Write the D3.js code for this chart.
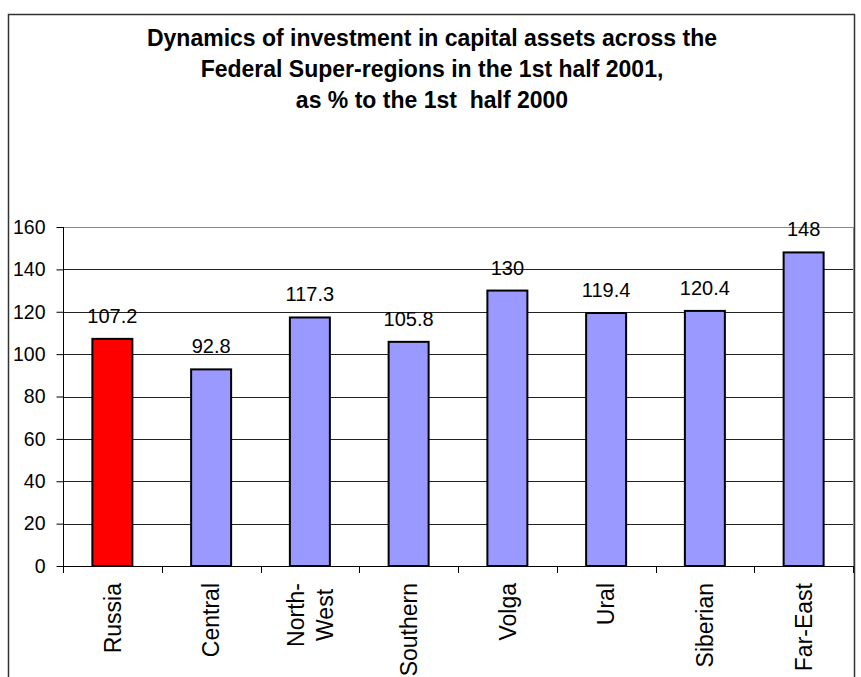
<!DOCTYPE html>
<html>
<head>
<meta charset="utf-8">
<script src="https://cdn.jsdelivr.net/npm/d3@7/dist/d3.min.js"></script>
<style>
  html, body { margin: 0; padding: 0; background: #fff; }
  svg { display: block; font-family: "Liberation Sans", Arial, sans-serif; }
</style>
</head>
<body>
<svg id="chart" width="861" height="677"></svg>
<script>
// Regions and their investment index (1st half 2001 as % of 1st half 2000)
const categories = ["Russia", "Central", "North-West", "Southern", "Volga", "Ural", "Siberian", "Far-East"];
const categoryLabels = ["Russia", "Central", "North-\nWest", "Southern", "Volga", "Ural", "Siberian", "Far-East"];
const values = [107.2, 92.8, 117.3, 105.8, 130, 119.4, 120.4, 148];
const valueLabels = ["107.2", "92.8", "117.3", "105.8", "130", "119.4", "120.4", "148"];
const yTicks = [0, 20, 40, 60, 80, 100, 120, 140, 160];
const titleLines = [
  "Dynamics of investment in capital assets across the",
  "Federal Super-regions in the 1st half 2001,",
  "as % to the 1st  half 2000"
];

const svg = d3.select("#chart");

const plot = { left: 63, right: 853, top: 227, bottom: 566 };
const barFrac = 0.405;

// Outer frame of the chart
svg.append("rect")
  .attr("x", 8.5).attr("y", 14.5)
  .attr("width", 846).attr("height", 700)
  .attr("fill", "#fff")
  .attr("stroke", "#333").attr("stroke-width", 1.5);

// Title
const title = svg.append("text")
  .attr("text-anchor", "middle")
  .attr("font-weight", "bold")
  .attr("font-size", 23)
  .attr("fill", "#000");
titleLines.forEach((line, i) => {
  title.append("tspan")
    .attr("x", 432)
    .attr("y", 46 + i * 31)
    .style("white-space", "pre")
    .text(line);
});

const x = d3.scaleBand()
  .domain(categories)
  .range([plot.left, plot.right])
  .padding(0);

const y = d3.scaleLinear()
  .domain([0, 160])
  .range([plot.bottom, plot.top]);

// Horizontal gridlines
svg.append("g")
  .selectAll("line")
  .data(yTicks.filter(t => t > 0 && t < 160))
  .join("line")
  .attr("x1", plot.left).attr("x2", plot.right)
  .attr("y1", d => Math.round(y(d)) + 0.5)
  .attr("y2", d => Math.round(y(d)) + 0.5)
  .attr("stroke", "#222").attr("stroke-width", 1);

// Plot area border
svg.append("rect")
  .attr("x", plot.left + 0.5).attr("y", Math.round(plot.top) + 0.5)
  .attr("width", plot.right - plot.left)
  .attr("height", plot.bottom - plot.top)
  .attr("fill", "none")
  .attr("stroke", "#888").attr("stroke-width", 1);

// Bars
const bw = x.bandwidth() * barFrac;
svg.append("g")
  .selectAll("rect")
  .data(categories)
  .join("rect")
  .attr("x", d => x(d) + (x.bandwidth() - bw) / 2)
  .attr("y", (d, i) => y(values[i]))
  .attr("width", bw)
  .attr("height", (d, i) => y(0) - y(values[i]))
  .attr("fill", (d, i) => i === 0 ? "#ff0000" : "#9999ff")
  .attr("stroke", "#000")
  .attr("stroke-width", 2);

// Value labels
svg.append("g")
  .selectAll("text")
  .data(categories)
  .join("text")
  .attr("x", d => x(d) + x.bandwidth() / 2)
  .attr("y", (d, i) => y(values[i]) - 16)
  .attr("text-anchor", "middle")
  .attr("font-size", 20)
  .attr("fill", "#000")
  .text((d, i) => valueLabels[i]);

// Y axis
const yAxis = svg.append("g")
  .attr("transform", `translate(${plot.left + 0.5},0)`)
  .call(d3.axisLeft(y).tickValues(yTicks).tickSize(7).tickPadding(11).tickSizeOuter(0));
yAxis.select(".domain").remove();
yAxis.selectAll(".tick line").attr("stroke", "#000");
yAxis.selectAll(".tick text")
  .attr("font-size", 19.5)
  .attr("font-family", "Liberation Sans, Arial, sans-serif")
  .attr("fill", "#000");
svg.append("line")
  .attr("x1", plot.left + 0.5).attr("x2", plot.left + 0.5)
  .attr("y1", plot.top).attr("y2", plot.bottom + 7)
  .attr("stroke", "#000");

// X axis line and boundary ticks
svg.append("line")
  .attr("x1", plot.left).attr("x2", plot.right)
  .attr("y1", Math.round(y(0)) + 0.5).attr("y2", Math.round(y(0)) + 0.5)
  .attr("stroke", "#000");
const bounds = categories.map(d => x(d)).concat([plot.right]);
svg.append("g")
  .selectAll("line")
  .data(bounds)
  .join("line")
  .attr("x1", d => Math.round(d) + 0.5).attr("x2", d => Math.round(d) + 0.5)
  .attr("y1", y(0)).attr("y2", y(0) + 7)
  .attr("stroke", "#000");

// Rotated category labels
const catFont = 23;
const labelTop = 583;
const lineGap = 29;
const catG = svg.append("g");
categories.forEach((d, i) => {
  const lines = categoryLabels[i].split("\n");
  const cx = x(d) + x.bandwidth() / 2;
  const n = lines.length;
  const g = catG.append("g");
  const texts = lines.map((ln, j) => {
    const lx = cx + (j - (n - 1) / 2) * lineGap;
    return g.append("text")
      .attr("transform", `translate(${lx},${labelTop}) rotate(-90)`)
      .attr("text-anchor", "end")
      .attr("dy", "0.36em")
      .attr("font-size", catFont)
      .attr("fill", "#000")
      .text(ln);
  });
  // centre shorter lines along the longest one
  const lens = texts.map(t => t.node().getComputedTextLength());
  const maxLen = Math.max(...lens);
  texts.forEach((t, j) => {
    const shift = (maxLen - lens[j]) / 2;
    const lx = cx + (j - (n - 1) / 2) * lineGap;
    t.attr("transform", `translate(${lx},${labelTop + shift}) rotate(-90)`);
  });
});
</script>
</body>
</html>
